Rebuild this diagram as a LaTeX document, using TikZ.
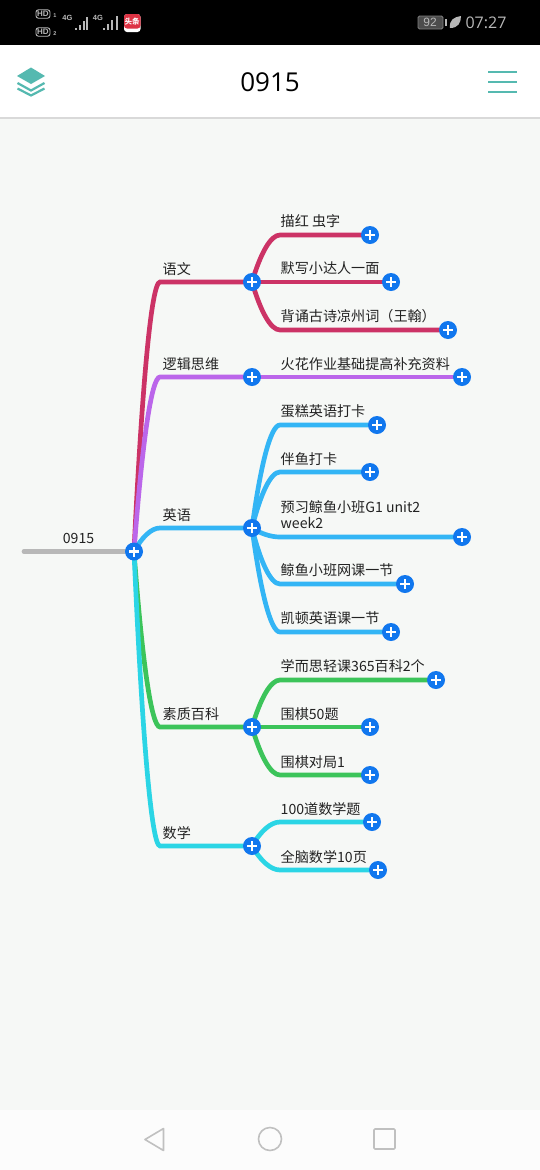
\documentclass[tikz,border=0pt]{standalone}
\usepackage{fontspec}
\setmainfont{Noto Sans CJK SC}
\newfontfamily\latinf{Open Sans}
\newfontfamily\condf{Liberation Sans}
\usetikzlibrary{calc,backgrounds}
\definecolor{cRed}{HTML}{CC3366}
\definecolor{cPur}{HTML}{BB66EA}
\definecolor{cBlu}{HTML}{33B5F5}
\definecolor{cGrn}{HTML}{3CC45A}
\definecolor{cCya}{HTML}{2BD5E5}
\definecolor{cPlus}{HTML}{1177EE}
\definecolor{cTeal}{HTML}{55B9B0}
\definecolor{cPage}{HTML}{F6F8F6}
\definecolor{cTxt}{HTML}{222222}
\definecolor{cNav}{HTML}{C0C0C0}
\definecolor{cBar}{HTML}{B8B8B8}
\definecolor{cIcon}{HTML}{DD3344}
\tikzset{
  plusnode/.style={circle,fill=cPlus,minimum size=18pt,inner sep=0pt,
    path picture={\draw[white,line width=2.6pt]
      ([xshift=-5pt]path picture bounding box.center)--([xshift=5pt]path picture bounding box.center)
      ([yshift=-5pt]path picture bounding box.center)--([yshift=5pt]path picture bounding box.center);}},
  lbl/.style={anchor=west,inner sep=0pt,yshift=-0.7pt,text=cTxt,font=\fontsize{14.1pt}{16.5pt}\selectfont,align=left},
  conn/.style={line width=4.7pt,line cap=round},
  statustxt/.style={inner sep=0pt,text=cBar,font=\condf\bfseries\fontsize{7.5pt}{8pt}\selectfont},
  hdbox/.style={statustxt,draw=cBar,line width=.9pt,rounded corners=2.5pt,minimum width=14pt,minimum height=8.5pt,font=\condf\bfseries\fontsize{8pt}{8pt}\selectfont},
  tinytxt/.style={statustxt,font=\condf\bfseries\fontsize{5.5pt}{6pt}\selectfont},
  navicon/.style={draw=cNav,line width=1.6pt,line join=round},
  menu/.style={draw=cTeal,line width=1.7pt}
}
% \linkit{colour}{from}{to}{corner offset}
\newcommand{\linkit}[4]{%
  \draw[conn,#1] let \p1=(#2),\p2=(#3) in
    (\p1) .. controls ($(\x1+0.3*#4,\y1)!0.6!(\x1+0.3*#4,\y2)$) and (\x1+0.66*#4,\y2) .. (\x1+#4,\y2) -- (\p2);}
\begin{document}
\begin{tikzpicture}[x=1pt,y=-1pt]
\useasboundingbox (0,0) rectangle (540,1170);
% plus nodes
\node[plusnode] (root) at (134,551.5) {};
\node[plusnode] (yw) at (252,282) {};
\node[plusnode] (lj) at (252,377) {};
\node[plusnode] (yy) at (252,528) {};
\node[plusnode] (sz) at (252,727) {};
\node[plusnode] (sx) at (252,846) {};
\node[plusnode] (a1) at (370,235) {};
\node[plusnode] (a2) at (391,282) {};
\node[plusnode] (a3) at (448,330) {};
\node[plusnode] (b1) at (462,377) {};
\node[plusnode] (c1) at (377,425) {};
\node[plusnode] (c2) at (370,472) {};
\node[plusnode] (c3) at (462,537) {};
\node[plusnode] (c4) at (405,584) {};
\node[plusnode] (c5) at (391,632) {};
\node[plusnode] (d1) at (436,680) {};
\node[plusnode] (d2) at (370,727) {};
\node[plusnode] (d3) at (370,775) {};
\node[plusnode] (e1) at (372,822) {};
\node[plusnode] (e2) at (378,870) {};
\coordinate (rootstart) at (24,551.5);
% labels
\node[lbl,anchor=center] (t0) at (78.5,538) {0915};
\node[lbl] (tyw) at (162.5,268) {语文};
\node[lbl] (tlj) at (162.5,363) {逻辑思维};
\node[lbl] (tyy) at (162.5,514) {英语};
\node[lbl] (tsz) at (162.5,713) {素质百科};
\node[lbl] (tsx) at (162.5,832) {数学};
\node[lbl] (ta1) at (280.5,220.5) {描红 虫字};
\node[lbl] (ta2) at (280.5,267.5) {默写小达人一面};
\node[lbl] (ta3) at (280.5,315.5) {背诵古诗凉州词（王翰）};
\node[lbl] (tb1) at (280.5,363) {火花作业基础提高补充资料};
\node[lbl] (tc1) at (280.5,410.5) {蛋糕英语打卡};
\node[lbl] (tc2) at (280.5,458) {伴鱼打卡};
\node[lbl] (tc3) at (280.5,514) {预习鲸鱼小班G1 unit2\\week2};
\node[lbl] (tc4) at (280.5,569.5) {鲸鱼小班网课一节};
\node[lbl] (tc5) at (280.5,617.5) {凯顿英语课一节};
\node[lbl] (td1) at (280.5,665) {学而思轻课365百科2个};
\node[lbl] (td2) at (280.5,713) {围棋50题};
\node[lbl] (td3) at (280.5,761) {围棋对局1};
\node[lbl] (te1) at (280.5,808) {100道数学题};
\node[lbl] (te2) at (280.5,856) {全脑数学10页};
% header title
\node[inner sep=0pt,text=black,font=\latinf\fontsize{26pt}{30pt}\selectfont] (title) at (270,82) {0915};
% status bar text
\node[hdbox] (hd1) at (43,14) {HD};
\node[hdbox] (hd2) at (43,32) {HD};
\node[tinytxt] (n1) at (55,16) {1};
\node[tinytxt] (n2) at (55,34) {2};
\node[statustxt] (g1) at (67.5,18) {4G};
\node[statustxt] (g2) at (98,18) {4G};
\node[inner sep=0pt,text=white,font=\bfseries\fontsize{7.5pt}{8pt}\selectfont] (tt) at (132,22) {头条};
\node[inner sep=0pt,text=cBar,font=\condf\fontsize{12pt}{13pt}\selectfont] (bat) at (430,22.5) {92};
\node[inner sep=0pt,text=cBar,font=\latinf\fontsize{16pt}{18pt}\selectfont] (clock) at (486,23) {07:27};
\begin{scope}[on background layer]
  % page regions
  \fill[cPage] (0,0) rectangle (540,1170);
  \fill[black] (0,0) rectangle (540,45);
  \fill[white] (0,45) rectangle (540,117);
  \fill[black!15!white] (0,117) rectangle (540,119);
  \fill[white!99!black] (0,1110) rectangle (540,1170);
  % status icons
  \foreach \x/\h in {75/2.5,79/5,82.5/9,86/13}{\fill[cBar] (\x,30) rectangle (\x+2,30-\h);}
  \foreach \x/\h in {103/2.5,107/6,111/10,115.5/14}{\fill[cBar] (\x,30) rectangle (\x+2,30-\h);}
  \fill[white,rounded corners=3pt] (124,14) rectangle (140.5,32);
  \fill[cIcon,rounded corners=3pt] (124,14) -- (140.5,14) -- (140.5,28.5) -- (124,28.5) -- cycle;
  \draw[cBar!70!black,fill=black!70!white,rounded corners=1.5pt,line width=.8pt] (418,16) rectangle (443,29);
  \fill[cBar] (445,19) rectangle (447,26);
  \fill[cBar] (450,28) .. controls (449,20) and (454,17) .. (461,16) .. controls (461,23) and (458,28) .. (450,28) -- cycle;
  % header icons
  \fill[cTeal] (31,67.5) -- (45,76) -- (31,84) -- (17,76) -- cycle;
  \draw[cTeal,line width=2.2pt] (17.5,83) -- (31,90.5) -- (44.5,83);
  \draw[cTeal,line width=2.2pt] (17.5,88.5) -- (31,95.5) -- (44.5,88.5);
  \draw[menu] (488,72) -- (517,72);
  \draw[menu] (488,82) -- (517,82);
  \draw[menu] (488,92) -- (517,92);
  % nav icons
  \draw[navicon] (163.5,1128.5) -- (145,1139.5) -- (163.5,1150.5) -- cycle;
  \draw[navicon] (270,1139) circle (11.5);
  \draw[navicon,rounded corners=1pt] (374,1129) rectangle (395,1149);
  % connectors
  \draw[conn,cBar] (rootstart) -- (root);
  \linkit{cRed}{root}{yw}{26}
  \linkit{cPur}{root}{lj}{26}
  \linkit{cBlu}{root}{yy}{26}
  \linkit{cGrn}{root}{sz}{26}
  \linkit{cCya}{root}{sx}{26}
  \linkit{cRed}{yw}{a1}{28}
  \linkit{cRed}{yw}{a2}{28}
  \linkit{cRed}{yw}{a3}{28}
  \linkit{cPur}{lj}{b1}{28}
  \linkit{cBlu}{yy}{c1}{28}
  \linkit{cBlu}{yy}{c2}{28}
  \linkit{cBlu}{yy}{c3}{28}
  \linkit{cBlu}{yy}{c4}{28}
  \linkit{cBlu}{yy}{c5}{28}
  \linkit{cGrn}{sz}{d1}{28}
  \linkit{cGrn}{sz}{d2}{28}
  \linkit{cGrn}{sz}{d3}{28}
  \linkit{cCya}{sx}{e1}{28}
  \linkit{cCya}{sx}{e2}{28}
\end{scope}
\end{tikzpicture}
\end{document}
